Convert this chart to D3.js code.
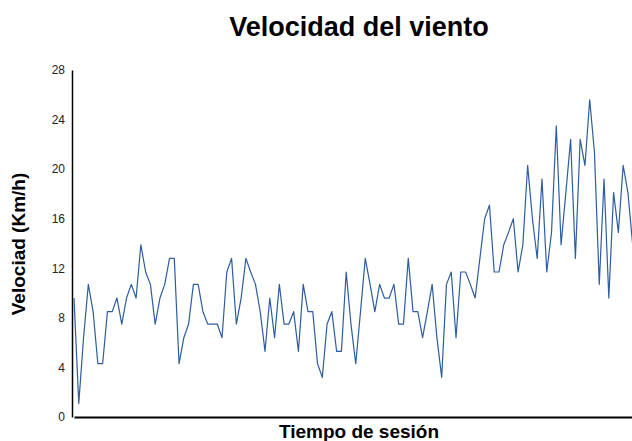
<!DOCTYPE html>
<html>
<head>
<meta charset="utf-8">
<script src="https://cdn.jsdelivr.net/npm/d3@7"></script>
<style>
  body { margin: 0; background: #fff; overflow: hidden; }
  svg { display: block; font-family: "Liberation Sans", Arial, sans-serif; }
</style>
</head>
<body>
<svg id="chart"></svg>
<script>
// wind speed, km/h, one reading per step of the session
const velocidad = [
  9.6, 1.1, 6.4, 10.7, 8.5, 4.3, 4.3, 8.5, 8.5, 9.6,
  7.5, 9.6, 10.7, 9.6, 13.9, 11.7, 10.7, 7.5, 9.6, 10.7,
  12.8, 12.8, 4.3, 6.4, 7.5, 10.7, 10.7, 8.5, 7.5, 7.5,
  7.5, 6.4, 11.7, 12.8, 7.5, 9.6, 12.8, 11.7, 10.7, 8.5,
  5.3, 9.6, 6.4, 10.7, 7.5, 7.5, 8.5, 5.3, 10.7, 8.5,
  8.5, 4.3, 3.2, 7.5, 8.5, 5.3, 5.3, 11.7, 7.5, 4.3,
  8.5, 12.8, 10.7, 8.5, 10.7, 9.6, 9.6, 10.7, 7.5, 7.5,
  12.8, 8.5, 8.5, 6.4, 8.5, 10.7, 6.4, 3.2, 10.7, 11.7,
  6.4, 11.7, 11.7, 10.7, 9.6, 12.8, 16.0, 17.1, 11.7, 11.7,
  13.9, 14.9, 16.0, 11.7, 13.9, 20.3, 16.0, 12.8, 19.2, 11.7,
  14.9, 23.5, 13.9, 18.1, 22.4, 12.8, 22.4, 20.3, 25.6, 21.3,
  10.7, 19.2, 9.6, 18.1, 14.9, 20.3, 18.1, 13.9
];
const yTicks = [0, 4, 8, 12, 16, 20, 24, 28];
const titulo = 'Velocidad del viento';
const ejeX = 'Tiempo de sesión';
const ejeY = 'Velociad (Km/h)';

const svg = d3.select('#chart'),
    margin = {top: 70, right: 0, bottom: 24, left: 72},
    fullW = 646,
    fullH = 441,
    width = fullW - margin.left,
    height = fullH - margin.top - margin.bottom,
    g = svg.attr('width', 632).attr('height', fullH)
      .append('g').attr('transform', `translate(${margin.left},${margin.top})`);

const x = d3.scaleLinear()
  .domain([0, velocidad.length - 1])
  .range([2, 560.7]);

const y = d3.scaleLinear()
  .domain([0, 28])
  .range([height, 0]);

// y axis: no tick marks, just labels
const yAxis = g.append('g')
  .call(d3.axisLeft(y).tickValues(yTicks).tickSize(0).tickPadding(7));
yAxis.selectAll('text').attr('font-size', 12).attr('fill', '#222')
  .attr('font-family', '"Liberation Sans", Arial, sans-serif');
yAxis.select('.domain').attr('stroke', '#000').attr('stroke-width', 1.5);

// x axis: bare line
const xAxis = g.append('g')
  .attr('transform', `translate(0,${height})`)
  .call(d3.axisBottom(x).tickValues([]).tickSize(0));
xAxis.select('.domain').attr('stroke', '#000').attr('stroke-width', 2);

const line = d3.line()
  .x((d, i) => x(i))
  .y(d => y(d));

g.append('path')
  .datum(velocidad)
  .attr('fill', 'none')
  .attr('stroke', '#2d5d9f')
  .attr('stroke-width', 1.2)
  .attr('stroke-linejoin', 'round')
  .attr('d', line);

svg.append('text')
  .attr('x', margin.left + width / 2)
  .attr('y', 36)
  .attr('text-anchor', 'middle')
  .attr('font-size', 27)
  .attr('font-weight', 'bold')
  .text(titulo);

svg.append('text')
  .attr('x', margin.left + width / 2)
  .attr('y', 438)
  .attr('text-anchor', 'middle')
  .attr('font-size', 19)
  .attr('font-weight', 'bold')
  .text(ejeX);

svg.append('text')
  .attr('transform', `translate(25,244) rotate(-90)`)
  .attr('text-anchor', 'middle')
  .attr('font-size', 19)
  .attr('font-weight', 'bold')
  .text(ejeY);
</script>
</body>
</html>
